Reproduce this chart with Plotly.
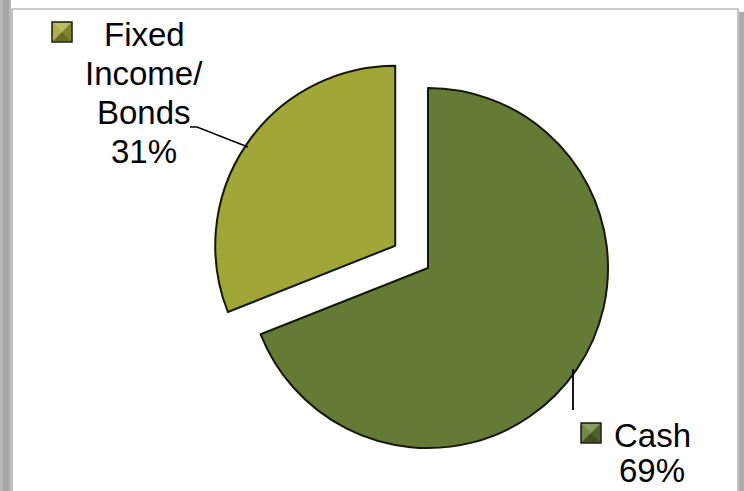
import plotly.graph_objects as go

# ---- data ----
categories = ["Cash", "Fixed Income/Bonds"]
label_lines = [["Cash"], ["Fixed", "Income/", "Bonds"]]
values = [69, 31]
pulls = [0, 0.22]
colors = ["#657A34", "#A1A736"]

W, H = 744, 491


def px(x):
    return x / W


def py(y):
    return 1 - y / H


fig = go.Figure()
fig.add_trace(go.Pie(
    labels=categories,
    values=values,
    pull=pulls,
    sort=False,
    direction="clockwise",
    rotation=0,
    textinfo="none",
    hoverinfo="label+percent",
    marker=dict(colors=colors, line=dict(color="#141709", width=2)),
    domain=dict(x=[px(208.4), px(647.6)], y=[py(487.6), py(48.4)]),
    showlegend=False,
))

shapes = []
# chart frame with shadow
shapes.append(dict(type="rect", xref="paper", yref="paper", x0=0, x1=px(11), y0=0, y1=1,
                   fillcolor="#b8b8b8", line=dict(width=0), layer="below"))
shapes.append(dict(type="rect", xref="paper", yref="paper", x0=px(3), x1=px(9), y0=0, y1=1,
                   fillcolor="#a6a6a6", line=dict(width=0), layer="below"))
shapes.append(dict(type="rect", xref="paper", yref="paper", x0=px(739), x1=1, y0=0, y1=py(12),
                   fillcolor="#ababab", line=dict(width=0), layer="below"))
shapes.append(dict(type="rect", xref="paper", yref="paper", x0=px(12), x1=px(738), y0=py(500), y1=py(9),
                   fillcolor="rgba(0,0,0,0)", line=dict(color="#9a9a9a", width=1.2), layer="below"))

# leader lines
shapes.append(dict(type="path", xref="paper", yref="paper",
                   path=f"M {px(190)},{py(127)} L {px(197)},{py(127)} L {px(248)},{py(147)}",
                   line=dict(color="black", width=1.5)))
shapes.append(dict(type="line", xref="paper", yref="paper",
                   x0=px(573), x1=px(573), y0=py(369), y1=py(410),
                   line=dict(color="black", width=1.8)))


def legend_box(x0, y0, color):
    x1, y1 = x0 + 20, y0 + 20
    cx, cy = x0 + 10, y0 + 10
    out = [dict(type="rect", xref="paper", yref="paper", x0=px(x0), x1=px(x1), y0=py(y1), y1=py(y0),
                fillcolor=color, line=dict(color="#1a1a1a", width=1.5))]
    tris = [
        ((x0 + 1, y0 + 1), (x1 - 1, y0 + 1), "rgba(255,255,255,0.25)"),
        ((x0 + 1, y1 - 1), (x1 - 1, y1 - 1), "rgba(0,0,0,0.35)"),
        ((x1 - 1, y0 + 1), (x1 - 1, y1 - 1), "rgba(0,0,0,0.2)"),
        ((x0 + 1, y0 + 1), (x0 + 1, y1 - 1), "rgba(255,255,255,0.1)"),
    ]
    for a, b, c in tris:
        out.append(dict(type="path", xref="paper", yref="paper",
                        path=f"M {px(a[0])},{py(a[1])} L {px(b[0])},{py(b[1])} L {px(cx)},{py(cy)} Z",
                        fillcolor=c, line=dict(width=0)))
    return out


shapes += legend_box(52, 22, colors[1])
shapes += legend_box(581, 423, colors[0])

FS = 33
font = dict(family="Liberation Sans, Arial", size=FS, color="black")
annotations = []
# label blocks: (lines, centre x, first baseline, line step)
blocks = [
    (label_lines[1] + [f"{values[1]}%"], 144, 45, 39),
    (label_lines[0] + [f"{values[0]}%"], 652, 446, 35),
]
for lines, cx, b0, step in blocks:
    for i, t in enumerate(lines):
        base = b0 + i * step
        annotations.append(dict(text=t, xref="paper", yref="paper", x=px(cx), y=py(base - 0.32 * FS),
                                xanchor="center", yanchor="middle", showarrow=False, font=font))

fig.update_layout(
    width=W, height=H,
    margin=dict(l=0, r=0, t=0, b=0),
    paper_bgcolor="white",
    plot_bgcolor="white",
    shapes=shapes,
    annotations=annotations,
)

fig.write_html("out.html", config={"displayModeBar": False},
               post_script="document.body.style.margin='0';document.body.style.overflow='hidden';")
